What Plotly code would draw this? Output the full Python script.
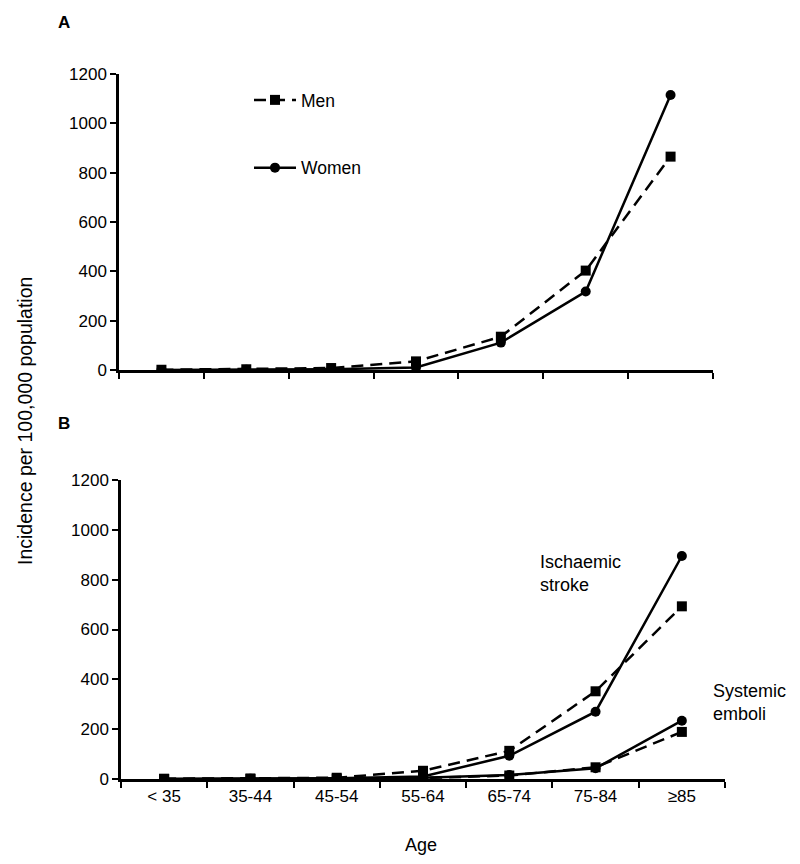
import plotly.graph_objects as go

ages = ["< 35", "35-44", "45-54", "55-64", "65-74", "75-84", "≥85"]

# Panel A: total incidence
men_total = [1, 3, 8, 35, 135, 403, 865]
women_total = [0.5, 1, 3, 10, 111, 318, 1115]

# Panel B: ischaemic stroke and systemic emboli
men_stroke = [1, 2, 5, 33, 113, 352, 693]
women_stroke = [0.5, 1, 3, 10, 93, 270, 895]
men_emboli = [0.3, 0.5, 1, 4, 14, 47, 189]
women_emboli = [0.2, 0.3, 1, 5, 16, 43, 234]

y_ticks = [0, 200, 400, 600, 800, 1000, 1200]

W, H = 800, 864
FONT = "Liberation Sans, Arial, sans-serif"

def px(x):
    return x / W

def py(y):
    return 1 - y / H

fig = go.Figure()

men_style = dict(mode="lines+markers", line=dict(color="black", width=2.5, dash="12px,7px"),
                 marker=dict(symbol="square", size=10, color="black"))
women_style = dict(mode="lines+markers", line=dict(color="black", width=2.5),
                   marker=dict(symbol="circle", size=10, color="black"))

fig.add_trace(go.Scatter(x=ages, y=men_total, name="Men", legendgroup="m", xaxis="x", yaxis="y", **men_style))
fig.add_trace(go.Scatter(x=ages, y=women_total, name="Women", legendgroup="w", xaxis="x", yaxis="y", **women_style))

fig.add_trace(go.Scatter(x=ages, y=men_stroke, showlegend=False, xaxis="x2", yaxis="y2", **men_style))
fig.add_trace(go.Scatter(x=ages, y=women_stroke, showlegend=False, xaxis="x2", yaxis="y2", **women_style))
fig.add_trace(go.Scatter(x=ages, y=men_emboli, showlegend=False, xaxis="x2", yaxis="y2", **men_style))
fig.add_trace(go.Scatter(x=ages, y=women_emboli, showlegend=False, xaxis="x2", yaxis="y2", **women_style))

xcommon = dict(type="category", categoryorder="array", categoryarray=ages,
               range=[-0.5, 6.5], showline=True, linecolor="black", linewidth=2.5,
               ticks="outside", tickson="boundaries", ticklen=6, tickwidth=2, tickcolor="black",
               showgrid=False, zeroline=False, fixedrange=True, automargin=False,
               tickfont=dict(family=FONT, size=17, color="black"))
ycommon = dict(range=[0, 1200], tickvals=y_ticks, showline=True, linecolor="black", linewidth=2.5,
               ticks="outside", ticklen=6, tickwidth=2, tickcolor="black",
               showgrid=False, zeroline=False, automargin=False,
               tickfont=dict(family=FONT, size=17, color="black"))

fig.update_layout(
    template="none",
    width=W, height=H,
    margin=dict(l=0, r=0, t=0, b=0, autoexpand=False),
    paper_bgcolor="white", plot_bgcolor="white",
    font=dict(family=FONT, size=18, color="black"),
    xaxis=dict(domain=[px(119), px(713)], anchor="y", showticklabels=False, **xcommon),
    yaxis=dict(domain=[py(370), py(74)], anchor="x", **ycommon),
    xaxis2=dict(domain=[px(121), px(725)], anchor="y2", showticklabels=True, **xcommon),
    yaxis2=dict(domain=[py(779), py(480)], anchor="x2", **ycommon),
    legend=dict(x=px(249), y=py(82), xanchor="left", yanchor="top",
                bgcolor="rgba(0,0,0,0)", borderwidth=0, tracegroupgap=42,
                font=dict(family=FONT, size=17.5, color="black"), itemwidth=42),
    showlegend=True,
)

ann = [
    dict(text="<b>A</b>", x=px(64), y=py(23), xanchor="center", yanchor="middle", font=dict(size=17)),
    dict(text="<b>B</b>", x=px(64), y=py(424), xanchor="center", yanchor="middle", font=dict(size=17)),
    dict(text="Incidence per 100,000 population", x=px(25), y=py(421), textangle=-90,
         xanchor="center", yanchor="middle", font=dict(size=19.5)),
    dict(text="Age", x=px(421), y=py(845), xanchor="center", yanchor="middle", font=dict(size=18)),
    dict(text="Ischaemic<br>stroke", x=px(538), y=py(573), xanchor="left", yanchor="middle",
         align="left", font=dict(size=18)),
    dict(text="Systemic<br>emboli", x=px(711), y=py(702), xanchor="left", yanchor="middle",
         align="left", font=dict(size=18)),
]
for a in ann:
    a.update(xref="paper", yref="paper", showarrow=False)
fig.update_layout(annotations=ann)

fig.write_html("out.html", config={"displayModeBar": False},
               post_script="document.body.style.margin='0';document.body.style.overflow='hidden';")
